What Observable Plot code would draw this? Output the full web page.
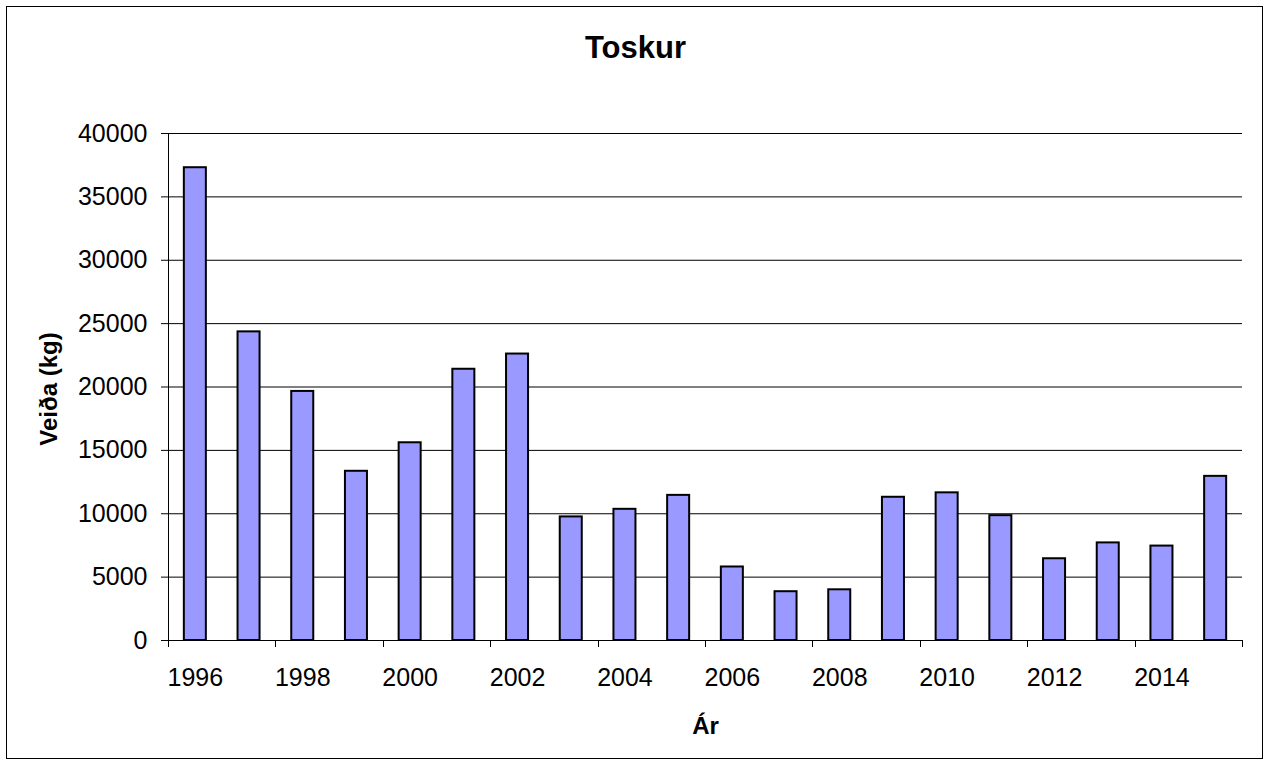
<!DOCTYPE html>
<html>
<head>
<meta charset="utf-8">
<script src="https://cdn.jsdelivr.net/npm/d3@7"></script>
<script src="https://cdn.jsdelivr.net/npm/@observablehq/plot@0.6"></script>
<style>
  html, body { margin: 0; padding: 0; background: #ffffff; }
  #chart svg { display: block; }
</style>
</head>
<body>
<div id="chart"></div>
<script>
// ---- data ----
const years = [1996, 1997, 1998, 1999, 2000, 2001, 2002, 2003, 2004, 2005,
               2006, 2007, 2008, 2009, 2010, 2011, 2012, 2013, 2014, 2015];
const catchKg = [37300, 24350, 19650, 13350, 15600, 21400, 22600, 9750, 10350, 11450,
                 5800, 3850, 4000, 11300, 11650, 9850, 6450, 7700, 7450, 12950];
const yTicks = [0, 5000, 10000, 15000, 20000, 25000, 30000, 35000, 40000];
const xTickLabels = [1996, 1998, 2000, 2002, 2004, 2006, 2008, 2010, 2012, 2014];
const titleText = "Toskur";
const xTitle = "Ár";
const yTitle = "Veiða (kg)";

const data = years.map((year, i) => ({year, value: catchKg[i]}));

const padInner = 0.59;

// custom decoration: axis lines, category-boundary ticks, outer border
function decorations(index, scales, values, dimensions) {
  const {width, height, marginLeft, marginRight, marginTop, marginBottom} = dimensions;
  const x0 = marginLeft, x1 = width - marginRight;
  const yTop = marginTop, yBot = height - marginBottom;
  const g = d3.create("svg:g").attr("fill", "none").attr("stroke", "black");
  // y axis line
  g.append("line").attr("x1", x0 + 0.5).attr("x2", x0 + 0.5).attr("y1", yTop).attr("y2", yBot + 0.5);
  // x axis line
  g.append("line").attr("x1", x0).attr("x2", x1).attr("y1", yBot + 0.5).attr("y2", yBot + 0.5);
  // category boundary ticks every 2 categories
  const sx = scales.x;
  const step = sx(years[1]) - sx(years[0]);
  let bw = sx.bandwidth;
  if (typeof bw === "function") bw = bw();
  if (!(typeof bw === "number" && isFinite(bw))) bw = step * (1 - padInner);
  const bounds = xTickLabels.map(y => sx(y) + bw / 2 - step / 2);
  bounds.push(sx(years[years.length - 1]) + bw / 2 + step / 2);
  for (const b of bounds) {
    if (!isFinite(b)) continue;
    const bx = Math.round(b) + 0.5;
    g.append("line").attr("x1", bx).attr("x2", bx).attr("y1", yBot).attr("y2", yBot + 7);
  }
  // outer chart border
  g.append("rect").attr("x", 6.5).attr("y", 6.5).attr("width", width - 13).attr("height", height - 13)
    .attr("stroke-width", 1);
  return g.node();
}

const chart = Plot.plot({
  width: 1269,
  height: 765,
  marginLeft: 168,
  marginRight: 27,
  marginTop: 133,
  marginBottom: 125,
  style: {fontFamily: "'Liberation Sans', Arial, sans-serif", background: "white", color: "black"},
  x: {type: "band", domain: years, paddingInner: padInner, paddingOuter: padInner / 2, align: 0.5, round: false},
  y: {domain: [0, 40000]},
  marks: [
    Plot.ruleY(yTicks, {stroke: "black", strokeWidth: 1}),
    Plot.barY(data, {x: "year", y: "value", fill: "#9999FF", stroke: "black", strokeWidth: 2}),
    Plot.axisY({ticks: yTicks, tickSize: 7, tickPadding: 14, tickFormat: d => String(d),
                fontSize: 25, label: null, stroke: "black", fill: "black"}),
    Plot.axisX({ticks: xTickLabels, tickSize: 0, tickPadding: 28, tickFormat: d => String(d),
                fontSize: 25, label: null, fill: "black"}),
    decorations,
    Plot.text([titleText], {text: d => d, frameAnchor: "top", lineAnchor: "middle", textAnchor: "middle",
                            dx: -70, dy: -85, fontSize: 31, fontWeight: "bold", fill: "black"}),
    Plot.text([xTitle], {text: d => d, frameAnchor: "bottom", lineAnchor: "middle", textAnchor: "middle",
                         dy: 86, fontSize: 24, fontWeight: "bold", fill: "black"}),
    Plot.text([yTitle], {text: d => d, frameAnchor: "left", lineAnchor: "middle", textAnchor: "middle",
                         rotate: -90, dx: -119, dy: 2, fontSize: 24, fontWeight: "bold", fill: "black"})
  ]
});

document.getElementById("chart").appendChild(chart);
</script>
</body>
</html>
